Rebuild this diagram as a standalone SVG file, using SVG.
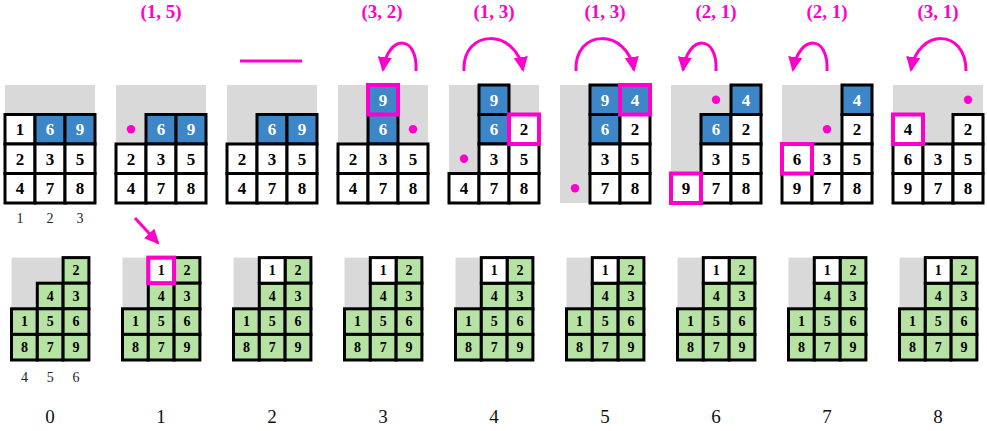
<svg xmlns="http://www.w3.org/2000/svg" width="987" height="431" viewBox="0 0 987 431">
  <style>
    .bg { fill: #d9d9d9; }
    .w { fill: #ffffff; stroke: #000; stroke-width: 3; }
    .b { fill: #3d86c8; stroke: #000; stroke-width: 3; }
    .g { fill: #b6e2a4; stroke: #000; stroke-width: 3; }
    .hl { fill: none; stroke: #ff00cc; stroke-width: 4; }
    .dot { fill: #ff00cc; }
    .n { font-family: "Liberation Serif", "Times New Roman", serif; font-weight: bold; font-size: 17px; text-anchor: middle; fill: #000; }
    .nw { fill: #ffffff; }
    .s { font-family: "Liberation Serif", "Times New Roman", serif; font-weight: bold; font-size: 14px; text-anchor: middle; fill: #000; }
    .lab { font-family: "Liberation Serif", "Times New Roman", serif; font-weight: bold; font-size: 19px; text-anchor: middle; fill: #ff00cc; }
    .ax { font-family: "Liberation Serif", "Times New Roman", serif; font-size: 14px; text-anchor: middle; fill: #222; }
    .step { font-family: "Liberation Serif", "Times New Roman", serif; font-size: 19px; text-anchor: middle; fill: #111; }
    .arc { fill: none; stroke: #ff00cc; stroke-width: 3; marker-end: url(#ah); }
  </style>
  <defs>
    <marker id="ah" markerWidth="15" markerHeight="14" viewBox="0 0 15 14" refX="13" refY="7" orient="auto" markerUnits="userSpaceOnUse">
      <path d="M0,0 L15,7 L0,14 z" fill="#ff00cc"/>
    </marker>
    <!-- lower stack: 3 columns x 4 rows, 25.8 x 25.6 cells -->
    <g id="stack">
      <rect class="bg" x="0" y="0" width="77.4" height="102.4"/>
      <rect class="g" x="51.6" y="0" width="25.8" height="25.6"/>
      <rect class="g" x="25.8" y="25.6" width="25.8" height="25.6"/>
      <rect class="g" x="51.6" y="25.6" width="25.8" height="25.6"/>
      <rect class="g" x="0" y="51.2" width="25.8" height="25.6"/>
      <rect class="g" x="25.8" y="51.2" width="25.8" height="25.6"/>
      <rect class="g" x="51.6" y="51.2" width="25.8" height="25.6"/>
      <rect class="g" x="0" y="76.8" width="25.8" height="25.6"/>
      <rect class="g" x="25.8" y="76.8" width="25.8" height="25.6"/>
      <rect class="g" x="51.6" y="76.8" width="25.8" height="25.6"/>
      <text class="s" x="64.5" y="17.6">2</text>
      <text class="s" x="38.7" y="43.2">4</text>
      <text class="s" x="64.5" y="43.2">3</text>
      <text class="s" x="12.9" y="68.8">1</text>
      <text class="s" x="38.7" y="68.8">5</text>
      <text class="s" x="64.5" y="68.8">6</text>
      <text class="s" x="12.9" y="94.4">8</text>
      <text class="s" x="38.7" y="94.4">7</text>
      <text class="s" x="64.5" y="94.4">9</text>
    </g>
    <g id="stack1">
      <use href="#stack"/>
      <rect class="w" x="25.8" y="0" width="25.8" height="25.6"/>
      <text class="s" x="38.7" y="17.6">1</text>
    </g>
  </defs>

  <!-- upper grids: 3 columns x 4 rows, 30 x 29.5 cells -->
  <g id="grid0" transform="translate(5,85)">
    <rect class="bg" x="0" y="0" width="90" height="118"/>
    <rect class="w" x="0" y="29.5" width="30" height="29.5"/>
    <rect class="b" x="30" y="29.5" width="30" height="29.5"/>
    <rect class="b" x="60" y="29.5" width="30" height="29.5"/>
    <rect class="w" x="0" y="59" width="30" height="29.5"/>
    <rect class="w" x="30" y="59" width="30" height="29.5"/>
    <rect class="w" x="60" y="59" width="30" height="29.5"/>
    <rect class="w" x="0" y="88.5" width="30" height="29.5"/>
    <rect class="w" x="30" y="88.5" width="30" height="29.5"/>
    <rect class="w" x="60" y="88.5" width="30" height="29.5"/>
    <text class="n" x="15" y="50.25">1</text>
    <text class="n nw" x="45" y="50.25">6</text>
    <text class="n nw" x="75" y="50.25">9</text>
    <text class="n" x="15" y="79.75">2</text>
    <text class="n" x="45" y="79.75">3</text>
    <text class="n" x="75" y="79.75">5</text>
    <text class="n" x="15" y="109.25">4</text>
    <text class="n" x="45" y="109.25">7</text>
    <text class="n" x="75" y="109.25">8</text>
  </g>

  <g id="grid1" transform="translate(116,85)">
    <rect class="bg" x="0" y="0" width="90" height="118"/>
    <rect class="b" x="30" y="29.5" width="30" height="29.5"/>
    <rect class="b" x="60" y="29.5" width="30" height="29.5"/>
    <rect class="w" x="0" y="59" width="30" height="29.5"/>
    <rect class="w" x="30" y="59" width="30" height="29.5"/>
    <rect class="w" x="60" y="59" width="30" height="29.5"/>
    <rect class="w" x="0" y="88.5" width="30" height="29.5"/>
    <rect class="w" x="30" y="88.5" width="30" height="29.5"/>
    <rect class="w" x="60" y="88.5" width="30" height="29.5"/>
    <circle class="dot" cx="15" cy="44.25" r="4.2"/>
    <text class="n nw" x="45" y="50.25">6</text>
    <text class="n nw" x="75" y="50.25">9</text>
    <text class="n" x="15" y="79.75">2</text>
    <text class="n" x="45" y="79.75">3</text>
    <text class="n" x="75" y="79.75">5</text>
    <text class="n" x="15" y="109.25">4</text>
    <text class="n" x="45" y="109.25">7</text>
    <text class="n" x="75" y="109.25">8</text>
  </g>

  <g id="grid2" transform="translate(227,85)">
    <rect class="bg" x="0" y="0" width="90" height="118"/>
    <rect class="b" x="30" y="29.5" width="30" height="29.5"/>
    <rect class="b" x="60" y="29.5" width="30" height="29.5"/>
    <rect class="w" x="0" y="59" width="30" height="29.5"/>
    <rect class="w" x="30" y="59" width="30" height="29.5"/>
    <rect class="w" x="60" y="59" width="30" height="29.5"/>
    <rect class="w" x="0" y="88.5" width="30" height="29.5"/>
    <rect class="w" x="30" y="88.5" width="30" height="29.5"/>
    <rect class="w" x="60" y="88.5" width="30" height="29.5"/>
    <text class="n nw" x="45" y="50.25">6</text>
    <text class="n nw" x="75" y="50.25">9</text>
    <text class="n" x="15" y="79.75">2</text>
    <text class="n" x="45" y="79.75">3</text>
    <text class="n" x="75" y="79.75">5</text>
    <text class="n" x="15" y="109.25">4</text>
    <text class="n" x="45" y="109.25">7</text>
    <text class="n" x="75" y="109.25">8</text>
  </g>

  <g id="grid3" transform="translate(338,85)">
    <rect class="bg" x="0" y="0" width="90" height="118"/>
    <rect class="b" x="30" y="0" width="30" height="29.5"/>
    <rect class="b" x="30" y="29.5" width="30" height="29.5"/>
    <rect class="w" x="0" y="59" width="30" height="29.5"/>
    <rect class="w" x="30" y="59" width="30" height="29.5"/>
    <rect class="w" x="60" y="59" width="30" height="29.5"/>
    <rect class="w" x="0" y="88.5" width="30" height="29.5"/>
    <rect class="w" x="30" y="88.5" width="30" height="29.5"/>
    <rect class="w" x="60" y="88.5" width="30" height="29.5"/>
    <circle class="dot" cx="75" cy="44.25" r="4.2"/>
    <text class="n nw" x="45" y="20.75">9</text>
    <text class="n nw" x="45" y="50.25">6</text>
    <text class="n" x="15" y="79.75">2</text>
    <text class="n" x="45" y="79.75">3</text>
    <text class="n" x="75" y="79.75">5</text>
    <text class="n" x="15" y="109.25">4</text>
    <text class="n" x="45" y="109.25">7</text>
    <text class="n" x="75" y="109.25">8</text>
    <rect class="hl" x="30" y="0" width="30" height="29.5"/>
  </g>

  <g id="grid4" transform="translate(449,85)">
    <rect class="bg" x="0" y="0" width="90" height="118"/>
    <rect class="b" x="30" y="0" width="30" height="29.5"/>
    <rect class="b" x="30" y="29.5" width="30" height="29.5"/>
    <rect class="w" x="60" y="29.5" width="30" height="29.5"/>
    <rect class="w" x="30" y="59" width="30" height="29.5"/>
    <rect class="w" x="60" y="59" width="30" height="29.5"/>
    <rect class="w" x="0" y="88.5" width="30" height="29.5"/>
    <rect class="w" x="30" y="88.5" width="30" height="29.5"/>
    <rect class="w" x="60" y="88.5" width="30" height="29.5"/>
    <circle class="dot" cx="15" cy="73.75" r="4.2"/>
    <text class="n nw" x="45" y="20.75">9</text>
    <text class="n nw" x="45" y="50.25">6</text>
    <text class="n" x="75" y="50.25">2</text>
    <text class="n" x="45" y="79.75">3</text>
    <text class="n" x="75" y="79.75">5</text>
    <text class="n" x="15" y="109.25">4</text>
    <text class="n" x="45" y="109.25">7</text>
    <text class="n" x="75" y="109.25">8</text>
    <rect class="hl" x="60" y="29.5" width="30" height="29.5"/>
  </g>

  <g id="grid5" transform="translate(560,85)">
    <rect class="bg" x="0" y="0" width="90" height="118"/>
    <rect class="b" x="30" y="0" width="30" height="29.5"/>
    <rect class="b" x="60" y="0" width="30" height="29.5"/>
    <rect class="b" x="30" y="29.5" width="30" height="29.5"/>
    <rect class="w" x="60" y="29.5" width="30" height="29.5"/>
    <rect class="w" x="30" y="59" width="30" height="29.5"/>
    <rect class="w" x="60" y="59" width="30" height="29.5"/>
    <rect class="w" x="30" y="88.5" width="30" height="29.5"/>
    <rect class="w" x="60" y="88.5" width="30" height="29.5"/>
    <circle class="dot" cx="15" cy="103.25" r="4.2"/>
    <text class="n nw" x="45" y="20.75">9</text>
    <text class="n nw" x="75" y="20.75">4</text>
    <text class="n nw" x="45" y="50.25">6</text>
    <text class="n" x="75" y="50.25">2</text>
    <text class="n" x="45" y="79.75">3</text>
    <text class="n" x="75" y="79.75">5</text>
    <text class="n" x="45" y="109.25">7</text>
    <text class="n" x="75" y="109.25">8</text>
    <rect class="hl" x="60" y="0" width="30" height="29.5"/>
  </g>

  <g id="grid6" transform="translate(671,85)">
    <rect class="bg" x="0" y="0" width="90" height="118"/>
    <rect class="b" x="60" y="0" width="30" height="29.5"/>
    <rect class="b" x="30" y="29.5" width="30" height="29.5"/>
    <rect class="w" x="60" y="29.5" width="30" height="29.5"/>
    <rect class="w" x="30" y="59" width="30" height="29.5"/>
    <rect class="w" x="60" y="59" width="30" height="29.5"/>
    <rect class="w" x="0" y="88.5" width="30" height="29.5"/>
    <rect class="w" x="30" y="88.5" width="30" height="29.5"/>
    <rect class="w" x="60" y="88.5" width="30" height="29.5"/>
    <circle class="dot" cx="45" cy="14.75" r="4.2"/>
    <text class="n nw" x="75" y="20.75">4</text>
    <text class="n nw" x="45" y="50.25">6</text>
    <text class="n" x="75" y="50.25">2</text>
    <text class="n" x="45" y="79.75">3</text>
    <text class="n" x="75" y="79.75">5</text>
    <text class="n" x="15" y="109.25">9</text>
    <text class="n" x="45" y="109.25">7</text>
    <text class="n" x="75" y="109.25">8</text>
    <rect class="hl" x="0" y="88.5" width="30" height="29.5"/>
  </g>

  <g id="grid7" transform="translate(782,85)">
    <rect class="bg" x="0" y="0" width="90" height="118"/>
    <rect class="b" x="60" y="0" width="30" height="29.5"/>
    <rect class="w" x="60" y="29.5" width="30" height="29.5"/>
    <rect class="w" x="0" y="59" width="30" height="29.5"/>
    <rect class="w" x="30" y="59" width="30" height="29.5"/>
    <rect class="w" x="60" y="59" width="30" height="29.5"/>
    <rect class="w" x="0" y="88.5" width="30" height="29.5"/>
    <rect class="w" x="30" y="88.5" width="30" height="29.5"/>
    <rect class="w" x="60" y="88.5" width="30" height="29.5"/>
    <circle class="dot" cx="45" cy="44.25" r="4.2"/>
    <text class="n nw" x="75" y="20.75">4</text>
    <text class="n" x="75" y="50.25">2</text>
    <text class="n" x="15" y="79.75">6</text>
    <text class="n" x="45" y="79.75">3</text>
    <text class="n" x="75" y="79.75">5</text>
    <text class="n" x="15" y="109.25">9</text>
    <text class="n" x="45" y="109.25">7</text>
    <text class="n" x="75" y="109.25">8</text>
    <rect class="hl" x="0" y="59" width="30" height="29.5"/>
  </g>

  <g id="grid8" transform="translate(893,85)">
    <rect class="bg" x="0" y="0" width="90" height="118"/>
    <rect class="w" x="0" y="29.5" width="30" height="29.5"/>
    <rect class="w" x="60" y="29.5" width="30" height="29.5"/>
    <rect class="w" x="0" y="59" width="30" height="29.5"/>
    <rect class="w" x="30" y="59" width="30" height="29.5"/>
    <rect class="w" x="60" y="59" width="30" height="29.5"/>
    <rect class="w" x="0" y="88.5" width="30" height="29.5"/>
    <rect class="w" x="30" y="88.5" width="30" height="29.5"/>
    <rect class="w" x="60" y="88.5" width="30" height="29.5"/>
    <circle class="dot" cx="75" cy="14.75" r="4.2"/>
    <text class="n" x="15" y="50.25">4</text>
    <text class="n" x="75" y="50.25">2</text>
    <text class="n" x="15" y="79.75">6</text>
    <text class="n" x="45" y="79.75">3</text>
    <text class="n" x="75" y="79.75">5</text>
    <text class="n" x="15" y="109.25">9</text>
    <text class="n" x="45" y="109.25">7</text>
    <text class="n" x="75" y="109.25">8</text>
    <rect class="hl" x="0" y="29.5" width="30" height="29.5"/>
  </g>

  <!-- lower stacks -->
  <g id="stack0" transform="translate(11.5,257.6)"><use href="#stack"/></g>
  <g id="stack1g" transform="translate(122.5,257.6)">
    <use href="#stack1"/>
    <rect class="hl" x="25.8" y="0" width="25.8" height="25.6"/>
  </g>
  <g id="stack2" transform="translate(233.5,257.6)"><use href="#stack1"/></g>
  <g id="stack3" transform="translate(344.5,257.6)"><use href="#stack1"/></g>
  <g id="stack4" transform="translate(455.5,257.6)"><use href="#stack1"/></g>
  <g id="stack5" transform="translate(566.5,257.6)"><use href="#stack1"/></g>
  <g id="stack6" transform="translate(677.5,257.6)"><use href="#stack1"/></g>
  <g id="stack7" transform="translate(788.5,257.6)"><use href="#stack1"/></g>
  <g id="stack8" transform="translate(899.5,257.6)"><use href="#stack1"/></g>

  <!-- move labels -->
  <g id="labels">
    <text class="lab" x="161" y="18">(1, 5)</text>
    <text class="lab" x="382" y="18">(3, 2)</text>
    <text class="lab" x="494" y="18">(1, 3)</text>
    <text class="lab" x="605" y="18">(1, 3)</text>
    <text class="lab" x="716" y="18">(2, 1)</text>
    <text class="lab" x="827" y="18">(2, 1)</text>
    <text class="lab" x="938" y="18">(3, 1)</text>
  </g>

  <!-- column indices and step numbers -->
  <g id="axes">
    <text class="ax" x="20" y="223">1</text>
    <text class="ax" x="50" y="223">2</text>
    <text class="ax" x="80" y="223">3</text>
    <text class="ax" x="24.4" y="382">4</text>
    <text class="ax" x="50.2" y="382">5</text>
    <text class="ax" x="76" y="382">6</text>
    <text class="step" x="50" y="423">0</text>
    <text class="step" x="161" y="423">1</text>
    <text class="step" x="272" y="423">2</text>
    <text class="step" x="383" y="423">3</text>
    <text class="step" x="494" y="423">4</text>
    <text class="step" x="605" y="423">5</text>
    <text class="step" x="716" y="423">6</text>
    <text class="step" x="827" y="423">7</text>
    <text class="step" x="938" y="423">8</text>
  </g>

  <!-- connectors -->
  <g id="connectors">
    <line x1="240" y1="61" x2="302" y2="61" stroke="#ff00cc" stroke-width="3"/>
    <line class="arc" x1="135" y1="218" x2="158" y2="243"/>
    <path class="arc" d="M416,71 C418,34 388,34 383,70"/>
    <path class="arc" d="M464,71 C462,28 516,28 523,70"/>
    <path class="arc" d="M576,71 C574,28 627,28 634,70"/>
    <path class="arc" d="M716,71 C718,34 688,34 683,70"/>
    <path class="arc" d="M827,71 C829,34 799,34 793,70"/>
    <path class="arc" d="M966,71 C966,28 918,28 911,70"/>
  </g>
</svg>
